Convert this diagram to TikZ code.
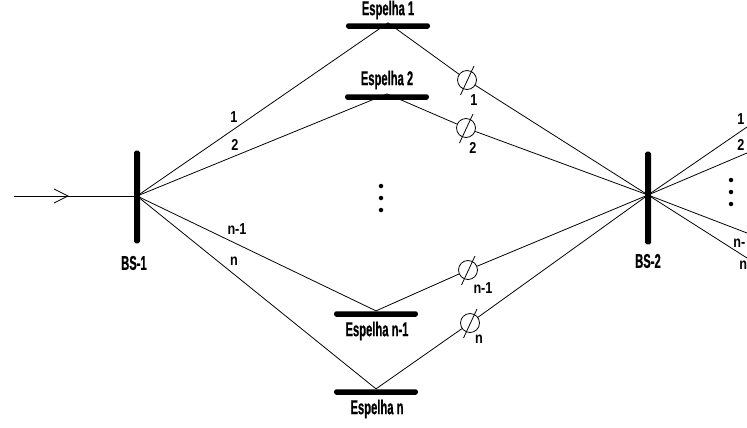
\documentclass[tikz,border=0pt]{standalone}
\usepackage{fontspec}
\setmainfont{Liberation Sans}
\newfontfamily\narrowfont[FakeStretch=0.56,FakeBold=0.6]{Liberation Sans Bold}
\newfontfamily\smallfont[FakeStretch=0.8]{Liberation Sans Bold}
\usetikzlibrary{arrows.meta,positioning}

\begin{document}
\begin{tikzpicture}[
  x=0.02cm, y=-0.02cm,
  line width=0.45pt,
  mirror/.style={fill=black, rounded corners=1pt, minimum width=1.68cm, minimum height=0.11cm, inner sep=0pt},
  splitter/.style={fill=black, rounded corners=1pt, minimum width=0.12cm, minimum height=1.86cm, inner sep=0pt},
  phase/.style={draw, circle, minimum size=0.38cm, inner sep=0pt},
  title/.style={font=\narrowfont\fontsize{11.4}{13}\selectfont, inner sep=0pt},
  pathlabel/.style={font=\smallfont\fontsize{9}{11}\selectfont, inner sep=0pt},
  point/.style={circle, fill=black, minimum size=0.09cm, inner sep=0pt}
]
\useasboundingbox (0,0) rectangle (747,427);
\clip (0,0) rectangle (747,427);

% beam splitters
\node[splitter] (bs1) at (137,197) {};
\node[splitter] (bs2) at (648,198) {};
\node[title] (bs1label) at (134,263) {BS-1};
\node[title] (bs2label) at (648,261) {BS-2};

% mirrors
\node[mirror] (m1) at (388,26) {};
\node[mirror] (m2) at (387,97) {};
\node[mirror] (m3) at (376,314) {};
\node[mirror] (m4) at (376,392) {};
\node[title] (m1label) at (388,10) {Espelha 1};
\node[title] (m2label) at (387,80) {Espelha 2};
\node[title] (m3label) at (377,331) {Espelha n-1};
\node[title] (m4label) at (377,409) {Espelha n};

% phase shifters
\node[phase] (p1) at (467,80) {};
\node[phase] (p2) at (466,128) {};
\node[phase] (p3) at (468,270) {};
\node[phase] (p4) at (470,323) {};
\foreach \p in {p1,p2,p3,p4}
  \draw ([shift={(-6.5,15)}]\p.center) -- ([shift={(7,-14)}]\p.center);

% input
\coordinate (in) at (14,196);
\coordinate (junction1) at (137,196);
\coordinate (junction2) at (648,195);
\coordinate (tip) at (68,196);
\draw (in) -- (junction1);
\draw ([shift={(-14,-7)}]tip) -- (tip) -- ([shift={(-14,7)}]tip);

% arms
\draw (junction1) -- (m1.north) -- (p1) -- (junction2);
\draw (junction1) -- (m2.north) -- (p2) -- (junction2);
\draw (junction1) -- (m3.north) -- (p3) -- (junction2);
\draw (junction1) -- (m4.north) -- (p4) -- (junction2);

% outputs
\coordinate (out1) at (747,127);
\coordinate (out2) at (747,153);
\coordinate (out3) at (747,233);
\coordinate (out4) at (747,258);
\foreach \o in {out1,out2,out3,out4}
  \draw (junction2) -- (\o);

% labels
\node[pathlabel] (a1) at (234,117) {1};
\node[pathlabel] (a2) at (235,145) {2};
\node[pathlabel] (a3) at (237,229) {n-1};
\node[pathlabel] (a4) at (234,261) {n};
\node[pathlabel] (b1) at (474,100) {1};
\node[pathlabel] (b2) at (473,148) {2};
\node[pathlabel] (b3) at (483,288) {n-1};
\node[pathlabel] (b4) at (479,339) {n};
\node[pathlabel] (c1) at (741,119) {1};
\node[pathlabel] (c2) at (741,145) {2};
\node[pathlabel, anchor=west] (c3) at (733,243) {n-};
\node[pathlabel, anchor=west] (c4) at (739,265) {n};

% dots
\foreach \y in {186,198,210}
  \node[point] at (381,\y) {};
\foreach \y in {180,192,204}
  \node[point] at (731,\y) {};
\end{tikzpicture}
\end{document}
